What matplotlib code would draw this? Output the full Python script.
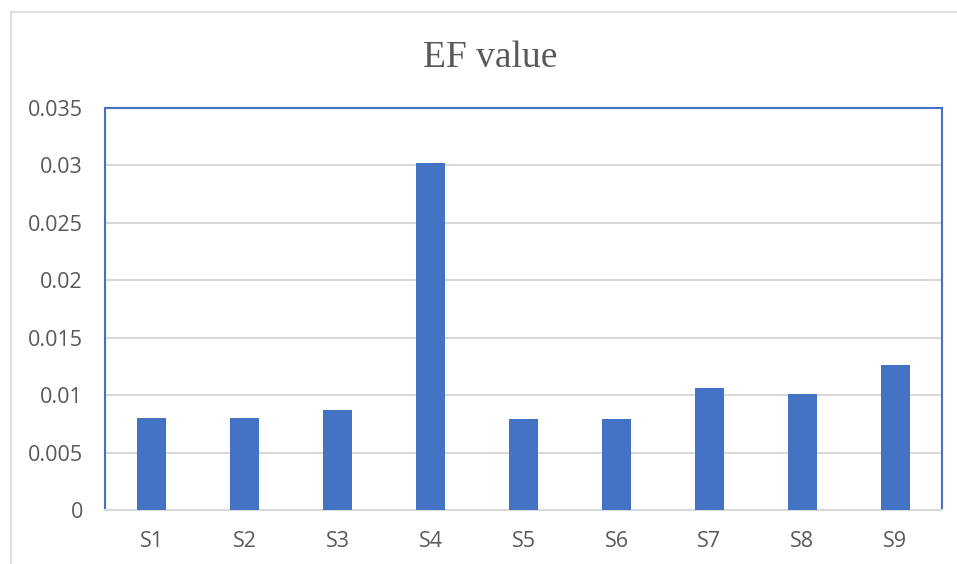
import numpy as np
import matplotlib.pyplot as plt
from matplotlib.lines import Line2D

samples = ["S1", "S2", "S3", "S4", "S5", "S6", "S7", "S8", "S9"]
ef_value = [0.00805, 0.0080, 0.0087, 0.0302, 0.00793, 0.00793, 0.01063, 0.01008, 0.01263]
yticks = [0, 0.005, 0.01, 0.015, 0.02, 0.025, 0.03, 0.035]
ytick_labels = ["0", "0.005", "0.01", "0.015", "0.02", "0.025", "0.03", "0.035"]

blue = "#4472C4"
grey_txt = "#595959"
grid_c = "#d9d9d9"

plt.rcParams['font.family'] = ['Open Sans', 'DejaVu Sans']

fig = plt.figure(figsize=(9.57, 5.64), dpi=100)
ax = fig.add_axes([0.1097, 0.0957, 0.8746, 0.7128])

x = np.arange(len(samples))
ax.bar(x, ef_value, width=0.31, color=blue, zorder=3)

ax.set_xlim(-0.5, len(samples) - 0.5)
ax.set_ylim(0, 0.035)
ax.set_yticks(yticks)
ax.set_yticklabels(ytick_labels)
ax.set_xticks(x)
ax.set_xticklabels(samples)
ax.tick_params(axis="both", length=0, labelsize=15.5, colors=grey_txt)
ax.tick_params(axis="y", pad=16)
ax.tick_params(axis="x", pad=15)
ax.yaxis.grid(True, color=grid_c, lw=1.5, zorder=0)

for side in ("left", "top", "right"):
    ax.spines[side].set_color(blue)
    ax.spines[side].set_linewidth(1.5)
ax.spines["bottom"].set_color(grid_c)
ax.spines["bottom"].set_linewidth(1.5)

# chart title, Excel style
fig.text(0.512, 0.882, "EF value", ha="center", va="baseline",
         family="Liberation Serif", fontsize=27, color=grey_txt)

# outer chart frame (only top and left visible in the crop)
fig.add_artist(Line2D([11/957, 1], [1 - 12/564, 1 - 12/564],
                      transform=fig.transFigure, color=grid_c, lw=1.2))
fig.add_artist(Line2D([11/957, 11/957], [0, 1 - 12/564],
                      transform=fig.transFigure, color=grid_c, lw=1.2))

fig.savefig("out.png", dpi=100)
